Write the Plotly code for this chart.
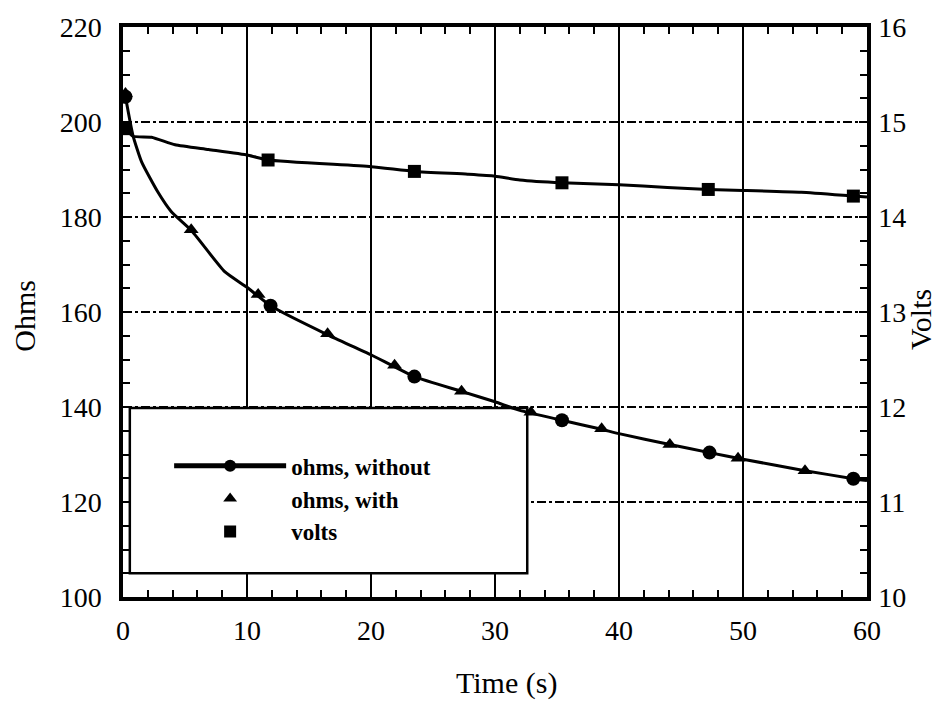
import plotly.graph_objects as go

# ---- data ----
ohm_curve_t = [0.2, 0.8, 1.5, 2.8, 3.9, 5.5, 8.2, 10.0, 11.9, 16.5, 20.0, 23.5, 27.3, 30.0,
               32.0, 35.4, 38.6, 40.0, 44.1, 47.3, 50.0, 55.0, 58.9, 60.0]
ohm_curve_v = [205.3, 197.2, 191.6, 185.3, 181.1, 177.2, 168.5, 165.2, 161.3, 155.2, 151.0, 146.4,
               143.3, 141.1, 139.3, 137.2, 135.3, 134.4, 132.1, 130.4, 129.0, 126.6, 124.9, 124.5]
ohm_without_t = [0.2, 11.9, 23.5, 35.4, 47.3, 58.9]   # circle markers lie on the curve

ohm_with_t = [0.2, 5.5, 10.9, 16.5, 21.9, 27.3, 32.9, 38.6, 44.1, 49.6, 55.0]
ohm_with_v = [206.0, 177.3, 163.7, 155.4, 148.8, 143.3, 138.9, 135.4, 132.1, 129.2, 126.6]

volt_curve_t = [0.2, 0.8, 2.3, 4.2, 6.9, 10.1, 11.7, 20.0, 23.5, 27.8, 30.0, 32.0, 35.4, 40.0,
                43.9, 47.2, 50.0, 54.7, 58.9, 60.0]
volt_curve_v = [14.93, 14.85, 14.84, 14.76, 14.71, 14.65, 14.60, 14.53, 14.48, 14.45, 14.43, 14.39,
                14.36, 14.34, 14.31, 14.29, 14.28, 14.26, 14.22, 14.21]
volt_marker_t = [0.2, 11.7, 23.5, 35.4, 47.2, 58.9]
volt_marker_v = [14.93, 14.60, 14.48, 14.36, 14.29, 14.22]

FONT = "Liberation Serif"
BLACK = "black"

fig = go.Figure()

# ohms, without: curve with circles at measured points
sizes = [14 if t in ohm_without_t else 0 for t in ohm_curve_t]
fig.add_trace(go.Scatter(
    x=ohm_curve_t, y=ohm_curve_v, mode="lines+markers", name="ohms, without",
    line=dict(color=BLACK, width=3, shape="spline", smoothing=0.5),
    marker=dict(symbol="circle", size=sizes, color=BLACK, opacity=1, line=dict(width=0)),
))

fig.add_trace(go.Scatter(
    x=ohm_with_t, y=ohm_with_v, mode="markers", name="ohms, with",
    marker=dict(symbol="triangle-up", size=13, color=BLACK, opacity=1),
))

# volts curve (no legend) + square markers
fig.add_trace(go.Scatter(
    x=volt_curve_t, y=volt_curve_v, mode="lines", yaxis="y2", showlegend=False,
    line=dict(color=BLACK, width=3, shape="spline", smoothing=0.5), hoverinfo="skip",
))
fig.add_trace(go.Scatter(
    x=volt_marker_t, y=volt_marker_v, mode="markers", yaxis="y2", name="volts",
    marker=dict(symbol="square", size=13, color=BLACK, opacity=1),
))

axis_font = dict(family=FONT, size=28, color=BLACK)
title_font = dict(family=FONT, size=30, color=BLACK)

fig.update_layout(
    width=944, height=706,
    margin=dict(l=123, r=77, t=25, b=109),
    paper_bgcolor="white", plot_bgcolor="white",
    font=dict(family=FONT, color=BLACK, size=26),
    showlegend=True,
    legend=dict(x=0.062, y=0.268, xanchor="left", yanchor="top",
                bgcolor="rgba(0,0,0,0)", borderwidth=0,
                font=dict(family=FONT, size=23, color=BLACK, weight="bold"),
                itemsizing="constant", itemwidth=112, tracegroupgap=0),
    xaxis=dict(range=[0, 60], dtick=10, tick0=0, showgrid=True, gridcolor=BLACK, gridwidth=1.8,
               showline=True, linecolor=BLACK, linewidth=3.5, mirror="ticks",
               ticks="inside", ticklen=8, tickcolor=BLACK, tickwidth=1.5,
               minor=dict(dtick=2, ticks="inside", ticklen=7, tickcolor=BLACK, tickwidth=1.5, showgrid=False),
               tickfont=axis_font, zeroline=False, ticklabelstandoff=6),
    yaxis=dict(range=[100, 220], dtick=20, tick0=100, showgrid=True, gridcolor=BLACK, gridwidth=1.5,
               griddash="dashdot",
               showline=True, linecolor=BLACK, linewidth=3.5,
               ticks="inside", ticklen=8, tickcolor=BLACK, tickwidth=1.5,
               minor=dict(dtick=5, ticks="inside", ticklen=7, tickcolor=BLACK, tickwidth=1.5, showgrid=False),
               tickfont=axis_font, zeroline=False, ticklabelstandoff=12),
    yaxis2=dict(range=[10, 16], dtick=1, tick0=10, overlaying="y", side="right", showgrid=False,
                showline=True, linecolor=BLACK, linewidth=3.5,
                ticks="inside", ticklen=8, tickcolor=BLACK, tickwidth=1.5,
                minor=dict(dtick=0.25, ticks="inside", ticklen=7, tickcolor=BLACK, tickwidth=1.5, showgrid=False),
                tickfont=axis_font, zeroline=False, ticklabelstandoff=2),
    shapes=[dict(type="rect", xref="x", yref="y", x0=0.55, x1=32.6, y0=105.0, y1=139.8,
                 line=dict(color=BLACK, width=2.5), fillcolor="white", layer="between")],
    annotations=[
        dict(text="Time (s)", xref="paper", yref="paper", x=0.515, y=-0.150, showarrow=False,
             font=title_font, xanchor="center", yanchor="middle"),
        dict(text="Ohms", xref="paper", yref="paper", x=-0.132, y=0.493, showarrow=False, textangle=-90,
             font=title_font, xanchor="center", yanchor="middle"),
        dict(text="Volts", xref="paper", yref="paper", x=1.072, y=0.487, showarrow=False, textangle=-90,
             font=title_font, xanchor="center", yanchor="middle"),
    ],
)

fig.write_html("out.html")
